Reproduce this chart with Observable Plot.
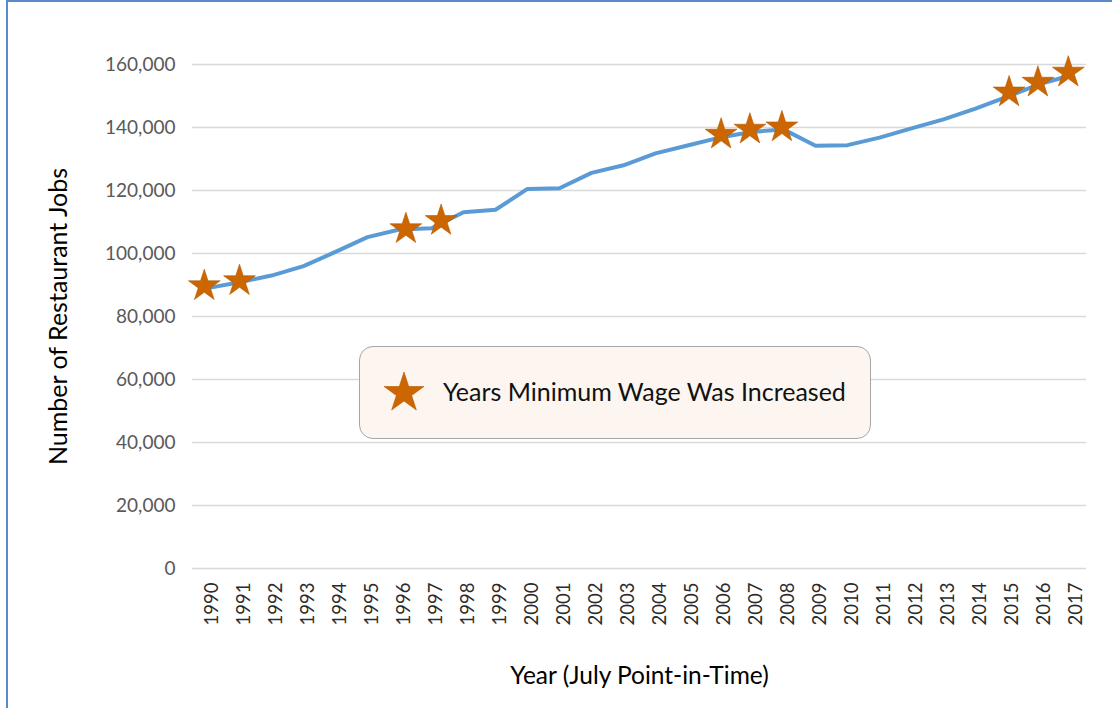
<!DOCTYPE html>
<html>
<head>
<meta charset="utf-8">
<script src="https://cdn.jsdelivr.net/npm/d3@7"></script>
<script src="https://cdn.jsdelivr.net/npm/@observablehq/plot@0.6"></script>
<style>
  html, body { margin: 0; padding: 0; background: #fff; }
  #wrap { position: relative; width: 1112px; height: 708px; overflow: hidden; font-family: Lato, "Open Sans", sans-serif; }
  #frame { position: absolute; left: 6px; top: 0px; width: 1120px; height: 720px; border-left: 2px solid #5b87cc; border-top: 2px solid #5b87cc; box-sizing: border-box; pointer-events: none; }
  #legend { position: absolute; left: 359px; top: 346px; width: 512px; height: 93px; box-sizing: border-box;
            background: #fdf5ef; border: 1px solid #a6a6a6; border-radius: 14px; }
  #legend svg { position: absolute; left: 22px; top: 24px; }
  #legend span { position: absolute; left: 83px; top: 29px; font-size: 25px; color: #111; white-space: nowrap; }
</style>
</head>
<body>
<div id="wrap"></div>
<script>
const years = [1990,1991,1992,1993,1994,1995,1996,1997,1998,1999,2000,2001,2002,2003,2004,2005,2006,2007,2008,2009,2010,2011,2012,2013,2014,2015,2016,2017];
const jobs  = [89000,90900,93000,96000,100500,105200,107600,108000,113100,113900,120500,120700,125600,128000,131800,134300,136800,138600,139400,134200,134400,136800,139700,142600,146000,149800,153800,156600];
// Stars (years in which the minimum wage was increased), placed as drawn in the source
const wageIncreaseYears = [1990,1991,1996,1997,2006,2007,2008,2015,2016,2017];
const starYearPos = [1989.9,1991.0,1996.2,1997.3,2006.05,2006.95,2007.95,2015.05,2015.95,2016.9];
const starJobs = [89700,91300,107800,110400,137800,139400,140100,151200,154300,157500];
const yTicks = [0,20000,40000,60000,80000,100000,120000,140000,160000];
const legendLabel = "Years Minimum Wage Was Increased";
const yTitle = "Number of Restaurant Jobs";
const xTitle = "Year (July Point-in-Time)";

const series = years.map((y, i) => ({year: y, jobs: jobs[i]}));
const stars = wageIncreaseYears.map((y, i) => ({year: y, pos: starYearPos[i], jobs: starJobs[i]}));

const chart = Plot.plot({
  width: 1112,
  height: 708,
  marginLeft: 207,
  marginRight: 41,
  marginTop: 64,
  marginBottom: 140,
  style: {fontFamily: "Lato, 'Open Sans', sans-serif", background: "transparent", overflow: "visible"},
  x: {domain: [1990, 2017]},
  y: {domain: [0, 160000]},
  marks: [
    Plot.ruleY(yTicks, {stroke: "#d9d9d9", strokeWidth: 1.5, insetLeft: -15, insetRight: -15}),
    Plot.axisY({ticks: yTicks, tickSize: 0, tickPadding: 32, tickFormat: d3.format(","), fontSize: 19, fill: "#595959", label: null}),
    Plot.axisX({ticks: years, tickRotate: -90, tickSize: 0, tickPadding: 14, tickFormat: d3.format("d"), fontSize: 18.5, fill: "#2b2b2b", dx: 5, label: null}),
    Plot.lineY(series, {x: "year", y: "jobs", stroke: "#5b9bd5", strokeWidth: 4, strokeLinejoin: "round"}),
    Plot.dot(stars, {x: "pos", y: "jobs", symbol: "star", r: 10, fill: "#cc6600", stroke: "#b35900", strokeWidth: 0.6}),
    Plot.text([yTitle], {frameAnchor: "left", rotate: -90, dx: -149, fontSize: 25, textAnchor: "middle", lineAnchor: "middle", fill: "#000"}),
    Plot.text([xTitle], {frameAnchor: "bottom", dy: 108, fontSize: 24.5, textAnchor: "middle", lineAnchor: "middle", fill: "#000"})
  ]
});

const wrap = document.getElementById("wrap");
wrap.appendChild(chart);

const frame = document.createElement("div");
frame.id = "frame";
wrap.appendChild(frame);

const legend = document.createElement("div");
legend.id = "legend";
const sym = d3.symbol(d3.symbolStar, 495)();
legend.innerHTML = `<svg width="44" height="44" viewBox="-22 -22 44 44"><path d="${sym}" fill="#cc6600" stroke="#b35900" stroke-width="0.6"></path></svg><span></span>`;
legend.querySelector("span").textContent = legendLabel;
wrap.appendChild(legend);
</script>
</body>
</html>
